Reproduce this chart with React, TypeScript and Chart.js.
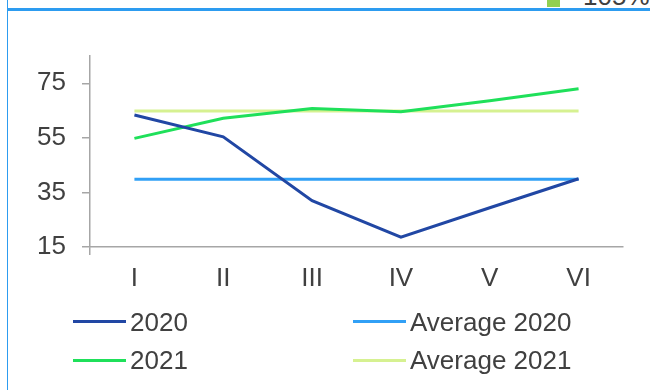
import React, { useEffect, useRef } from "react";
import { Chart, registerables } from "chart.js";

Chart.register(...registerables);

const months = ["I", "II", "III", "IV", "V", "VI"];
const values2020 = [63.4, 55.4, 32.0, 18.6, 29.4, 40.0];
const average2020 = [39.8, 39.8, 39.8, 39.8, 39.8, 39.8];
const values2021 = [54.8, 62.2, 65.8, 64.6, 68.6, 73.0];
const average2021 = [64.8, 64.8, 64.8, 64.8, 64.8, 64.8];
const yTicks = [15, 35, 55, 75];
const headerValue = "105%";

const FONT = "'Liberation Sans', Arial, sans-serif";
const TEXT = "#404040";
const AXIS = "#a6a6a6";
const FRAME = "#2d9cf0";

// Legend order: two columns, row by row
const series = [
  { label: "2020", data: values2020, color: "#2147a4" },
  { label: "Average 2020", data: average2020, color: "#31a0f6" },
  { label: "2021", data: values2021, color: "#1fe05a" },
  { label: "Average 2021", data: average2021, color: "#d6f191" },
];

export default function App() {
  const canvasRef = useRef<HTMLCanvasElement | null>(null);

  useEffect(() => {
    const canvas = canvasRef.current;
    if (!canvas) return;
    const chart = new Chart(canvas, {
      type: "line",
      data: {
        labels: months,
        datasets: series.map((s) => ({
          label: s.label,
          data: s.data,
          borderColor: s.color,
          backgroundColor: s.color,
          borderWidth: 3,
          pointRadius: 0,
          pointHoverRadius: 0,
          tension: 0,
          fill: false,
        })),
      },
      options: {
        animation: false,
        responsive: false,
        maintainAspectRatio: false,
        layout: { padding: { left: 0, right: 27, top: 56, bottom: 93 } },
        plugins: {
          legend: { display: false },
          tooltip: { enabled: false },
        },
        scales: {
          x: {
            offset: true,
            afterFit: (scale: any) => {
              scale.height = 50;
            },
            grid: {
              display: true,
              drawOnChartArea: false,
              drawTicks: true,
              tickLength: 8,
              offset: true,
              lineWidth: 1.5,
              color: (ctx: any) => (ctx.index === 0 ? AXIS : "rgba(0,0,0,0)"),
            },
            border: { display: true, color: AXIS, width: 1.5 },
            ticks: {
              color: TEXT,
              font: { family: FONT, size: 26 },
              padding: 8,
              maxRotation: 0,
              autoSkip: false,
            },
          },
          y: {
            min: 15,
            max: 85,
            afterFit: (scale: any) => {
              scale.width = 90;
            },
            afterBuildTicks: (scale: any) => {
              scale.ticks = yTicks.map((v) => ({ value: v }));
            },
            grid: {
              display: true,
              drawOnChartArea: false,
              drawTicks: true,
              tickLength: 8,
              lineWidth: 1.5,
              color: AXIS,
            },
            border: { display: true, color: AXIS, width: 1.5 },
            ticks: {
              color: TEXT,
              font: { family: FONT, size: 26 },
              padding: 16,
            },
          },
        },
      },
    });
    return () => chart.destroy();
  }, []);

  return (
    <div
      style={{
        position: "absolute",
        left: 0,
        top: 0,
        width: 650,
        height: 390,
        overflow: "hidden",
        background: "#ffffff",
        fontFamily: FONT,
      }}
    >
      {/* panel frame: thin left edge and thick top rule */}
      <div style={{ position: "absolute", left: 7, top: 0, width: 1, height: 390, background: FRAME }} />
      <div style={{ position: "absolute", left: 7, top: 8, width: 643, height: 3, background: FRAME }} />
      {/* header marker and value above the panel */}
      <div style={{ position: "absolute", left: 547, top: -6, width: 13, height: 13, background: "#92d050" }} />
      <div
        style={{
          position: "absolute",
          left: 583,
          top: -19,
          fontSize: 26,
          lineHeight: "30px",
          color: TEXT,
          whiteSpace: "nowrap",
        }}
      >
        {headerValue}
      </div>
      <canvas
        ref={canvasRef}
        width={650}
        height={390}
        style={{ position: "absolute", left: 0, top: 0, width: 650, height: 390 }}
      />
      {/* legend: two columns */}
      {series.map((s, i) => {
        const col = i % 2;
        const row = Math.floor(i / 2);
        return (
          <div
            key={s.label}
            style={{
              position: "absolute",
              left: col === 0 ? 73 : 353,
              top: 305.7 + row * 38.3,
              height: 32,
              display: "flex",
              alignItems: "center",
              whiteSpace: "nowrap",
            }}
          >
            <div style={{ width: 53, height: 3, background: s.color }} />
            <span style={{ marginLeft: 4, fontSize: 26, lineHeight: "32px", color: TEXT }}>{s.label}</span>
          </div>
        );
      })}
    </div>
  );
}
